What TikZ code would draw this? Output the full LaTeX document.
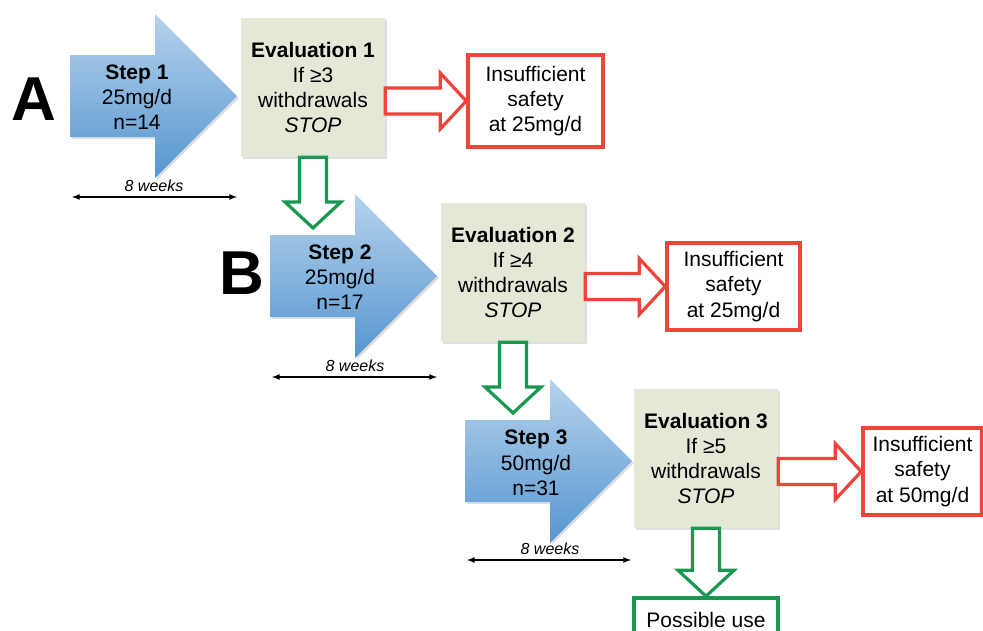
\documentclass[tikz,border=0pt]{standalone}
\usepackage{fontspec}
\setmainfont{Liberation Sans}
\usepackage{tikz}
\definecolor{stepTop}{RGB}{182,210,236}
\definecolor{stepBottom}{RGB}{86,150,208}
\definecolor{evalFill}{RGB}{227,233,214}
\definecolor{stopRed}{RGB}{240,68,58}
\definecolor{goGreen}{RGB}{26,152,82}
\usetikzlibrary{calc}
\usetikzlibrary{shadows}

\tikzset{
    every node/.style={inner sep=0pt, align=center, font=\fontsize{21}{25.3}\selectfont},
    softShadow/.style={drop shadow={shadow xshift=2pt, shadow yshift=-2pt, opacity=0.25}},
    evalBox/.style={fill=evalFill, minimum width=144, minimum height=139, softShadow},
    safetyBox/.style={draw=stopRed, line width=3.5pt, fill=white},
    useBox/.style={draw=goGreen, line width=3.5pt, fill=white, minimum width=144, minimum height=44},
    stepShape/.style={top color=stepTop, bottom color=stepBottom, softShadow},
    blockArrow/.style={line width=3.2pt, fill=white, line join=miter},
    weekArrow/.style={line width=1.6pt, latex-latex},
    weekText/.style={font=\fontsize{16}{18}\selectfont\itshape},
    bigLetter/.style={font=\fontsize{62}{62}\selectfont\bfseries}
}

% hollow block arrows between two nodes
\newcommand{\rightBlock}[3]{%
    \draw[blockArrow, draw=#1] ($(#2 |- #3)+(0,-13)$) -- ($(#3)+(-26,-13)$) -- ($(#3)+(-26,-28)$) -- (#3)
        -- ($(#3)+(-26,28)$) -- ($(#3)+(-26,13)$) -- ($(#2 |- #3)+(0,13)$) -- cycle;}
\newcommand{\downBlock}[3]{%
    \draw[blockArrow, draw=#1] ($(#2)+(-13.5,0)$) -- ($(#2 |- #3)+(-13.5,-26)$) -- ($(#2 |- #3)+(-28,-26)$) -- (#2 |- #3)
        -- ($(#2 |- #3)+(28,-26)$) -- ($(#2 |- #3)+(13.5,-26)$) -- ($(#2)+(13.5,0)$) -- cycle;}

\begin{document}
\begin{tikzpicture}[x=1pt, y=-1pt]
        \useasboundingbox (0,0) rectangle (983,630);
        \clip (0,0) rectangle (983,630);

        % the three steps
        \foreach \dx/\dy in {0/0, 200/180, 395/365} {
            \shade[stepShape] (70+\dx,55+\dy) -- (155+\dx,55+\dy) -- (155+\dx,14+\dy) -- (237+\dx,96+\dy)
                -- (155+\dx,178+\dy) -- (155+\dx,137+\dy) -- (70+\dx,137+\dy) -- cycle;
        }
        \node (step1) at (137, 97) {\textbf{Step 1}\\25mg/d\\n=14};
        \node (step2) at (340,277) {\textbf{Step 2}\\25mg/d\\n=17};
        \node (step3) at (536,463) {\textbf{Step 3}\\50mg/d\\n=31};

        \node[bigLetter] (labA) at ( 34, 99) {A};
        \node[bigLetter] (labB) at (242,273) {B};

        % evaluations
        \node[evalBox] (eval1) at (313, 87.5) {\textbf{Evaluation 1}\\If ≥3\\withdrawals\\\textit{STOP}};
        \node[evalBox] (eval2) at (513,272.5) {\textbf{Evaluation 2}\\If ≥4\\withdrawals\\\textit{STOP}};
        \node[evalBox] (eval3) at (706,458.5) {\textbf{Evaluation 3}\\If ≥5\\withdrawals\\\textit{STOP}};

        \node[safetyBox, minimum width=135, minimum height=92] (safe1) at (535.5,101)   {Insufficient\\safety\\at 25mg/d};
        \node[safetyBox, minimum width=133, minimum height=87] (safe2) at (733.5,286.5) {Insufficient\\safety\\at 25mg/d};
        \node[safetyBox, minimum width=119, minimum height=87] (safe3) at (922.5,471.5) {Insufficient\\safety\\at 50mg/d};
        \node[useBox] (use) at (706,620) {Possible use};

        \rightBlock{stopRed}{eval1.east}{safe1.west}
        \rightBlock{stopRed}{eval2.east}{safe2.west}
        \rightBlock{stopRed}{eval3.east}{safe3.west}

        \coordinate (into2) at (313,228);
        \coordinate (into3) at (513,413);
        \downBlock{goGreen}{eval1.south}{into2}
        \downBlock{goGreen}{eval2.south}{into3}
        \downBlock{goGreen}{eval3.south}{use.north}

        % 8 weeks per step
        \coordinate (w1l) at ( 72,197);  \coordinate (w1r) at (237,197);
        \coordinate (w2l) at (272,377);  \coordinate (w2r) at (437,377);
        \coordinate (w3l) at (467,560);  \coordinate (w3r) at (631,560);
        \draw[weekArrow] (w1l) -- (w1r);
        \draw[weekArrow] (w2l) -- (w2r);
        \draw[weekArrow] (w3l) -- (w3r);
        \node[weekText] (weeks1) at (154,186) {8 weeks};
        \node[weekText] (weeks2) at (355,366) {8 weeks};
        \node[weekText] (weeks3) at (550,549) {8 weeks};
    \end{tikzpicture}
\end{document}
